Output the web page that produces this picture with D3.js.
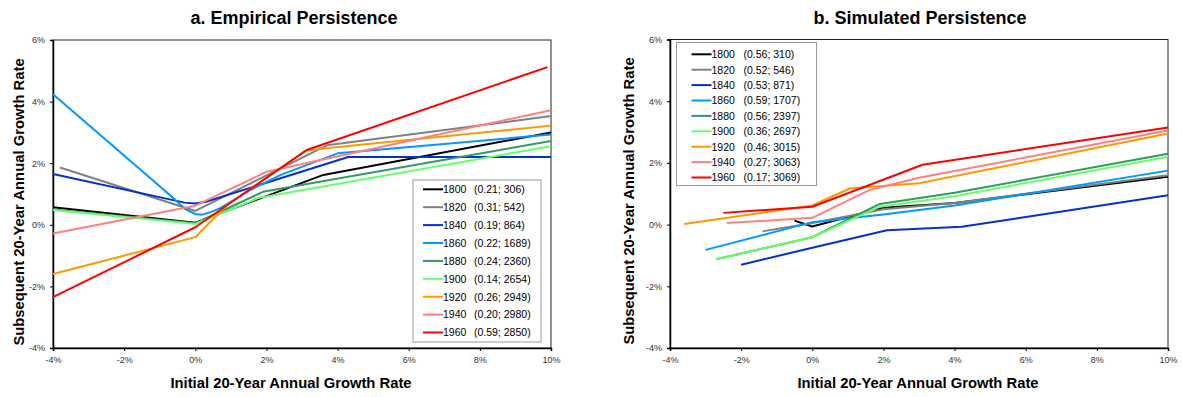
<!DOCTYPE html>
<html>
<head>
<meta charset="utf-8">
<script src="https://cdn.jsdelivr.net/npm/d3@7"></script>
<style>
  body { margin: 0; background: #fff; }
  svg { font-family: Arial, "Liberation Sans", sans-serif; }
  .tick text { fill: #333; font-size: 9px; }
  .series { fill: none; stroke-width: 2; stroke-linejoin: round; }
</style>
</head>
<body>
<svg id="chart" width="1182" height="397"></svg>
<script>
// cohorts and their colors
var years = ["1800", "1820", "1840", "1860", "1880", "1900", "1920", "1940", "1960"]
var colors = ["#000000", "#808080", "#0033cc", "#0099ff", "#339966", "#66ff66", "#ff9900", "#ff8080", "#ff0000"]

var xTicks = [-4, -2, 0, 2, 4, 6, 8, 10]
var yTicks = [-4, -2, 0, 2, 4, 6]

// legend stats (slope; count)
var empiricalStats = ["(0.21; 306)", "(0.31; 542)", "(0.19; 864)", "(0.22; 1689)", "(0.24; 2360)",
  "(0.14; 2654)", "(0.26; 2949)", "(0.20; 2980)", "(0.59; 2850)"]
var simulatedStats = ["(0.56; 310)", "(0.52; 546)", "(0.53; 871)", "(0.59; 1707)", "(0.56; 2397)",
  "(0.36; 2697)", "(0.46; 3015)", "(0.27; 3063)", "(0.17; 3069)"]

// a. empirical: [initial rate, subsequent rate] in %
var emp1800 = [[-4, 0.57], [0, 0.07], [3.6, 1.62], [10, 3.0]]
var emp1820 = [[-3.8, 1.86], [0, 0.45], [3.7, 2.58], [10, 3.53]]
var emp1840 = [[-4, 1.65], [-0.3, 0.72], [0, 0.69], [0.3, 0.75], [4.3, 2.2], [10, 2.2]]
var emp1860 = [[-4, 4.24], [-1, 1.25], [-0.6, 0.85], [-0.3, 0.52], [0, 0.35], [0.2, 0.33],
  [0.45, 0.42], [0.7, 0.54], [1.55, 1.13], [2.4, 1.62], [4, 2.32], [10, 2.93]]
var emp1880 = [[-4, 0.5], [0, 0.05], [1.9, 1.07], [10, 2.72]]
var emp1900 = [[-4, 0.48], [0, 0.03], [1.8, 0.88], [10, 2.55]]
var emp1920 = [[-4, -1.6], [0, -0.4], [0.9, 0.65], [3.1, 2.4], [3.6, 2.48], [10, 3.22]]
var emp1940 = [[-4, -0.28], [0, 0.62], [2.0, 1.72], [10, 3.72]]
var emp1960 = [[-4, -2.35], [0, -0.08], [3.13, 2.43], [9.9, 5.12]]

// b. simulated
var sim1800 = [[-0.5, 0.13], [0, -0.06], [2, 0.55], [4, 0.7], [10, 1.55]]
var sim1820 = [[-1.4, -0.22], [0, 0.05], [2, 0.5], [4, 0.7], [10, 1.6]]
var sim1840 = [[-2, -1.3], [0, -0.75], [2.1, -0.18], [4.2, -0.07], [10, 0.95]]
var sim1860 = [[-3, -0.82], [0, 0.08], [2, 0.33], [4, 0.62], [10, 1.75]]
var sim1880 = [[-2.7, -1.12], [0, -0.41], [1.9, 0.67], [4, 1.03], [10, 2.3]]
var sim1900 = [[-2.7, -1.12], [0, -0.41], [1.9, 0.58], [4, 0.92], [10, 2.2]]
var sim1920 = [[-3.6, 0.02], [0, 0.62], [1.05, 1.17], [3, 1.34], [10, 2.95]]
var sim1940 = [[-2.4, 0.05], [0, 0.22], [1.6, 1.12], [3, 1.52], [10, 3.05]]
var sim1960 = [[-2.5, 0.38], [0, 0.58], [3.1, 1.94], [10, 3.15]]

var empirical = [emp1800, emp1820, emp1840, emp1860, emp1880, emp1900, emp1920, emp1940, emp1960]
var simulated = [sim1800, sim1820, sim1840, sim1860, sim1880, sim1900, sim1920, sim1940, sim1960]

var svg = d3.select("#chart")

function drawPanel(opts) {
  var x = d3.scaleLinear().domain([-4, 10]).range([opts.left, opts.right])
  var y = d3.scaleLinear().domain([-4, 6]).range([opts.bottom, opts.top])
  var g = svg.append("g")

  // title
  g.append("text")
    .attr("x", opts.titleX).attr("y", 24)
    .attr("text-anchor", "middle")
    .style("font-size", "18px").style("font-weight", "bold")
    .text(opts.title)

  // frame
  g.append("rect")
    .attr("x", opts.left).attr("y", opts.top)
    .attr("width", opts.right - opts.left).attr("height", opts.bottom - opts.top)
    .attr("fill", "#fff").attr("stroke", "#222").attr("stroke-width", 1)

  var fmt = function (d) { return d + "%" }

  var xAxis = g.append("g")
    .attr("transform", "translate(0," + opts.bottom + ")")
    .call(d3.axisBottom(x).tickValues(xTicks).tickFormat(fmt).tickSize(3).tickPadding(6))
  var yAxis = g.append("g")
    .attr("transform", "translate(" + opts.left + ",0)")
    .call(d3.axisLeft(y).tickValues(yTicks).tickFormat(fmt).tickSize(3).tickPadding(5))
  xAxis.select(".domain").attr("stroke", "#000").attr("stroke-width", 1.5)
  yAxis.select(".domain").attr("stroke", "#000").attr("stroke-width", 1.5)
  xAxis.selectAll("text").style("font-family", "Arial, sans-serif")
  yAxis.selectAll("text").style("font-family", "Arial, sans-serif")

  // axis titles
  g.append("text")
    .attr("x", opts.xTitleX).attr("y", 388)
    .attr("text-anchor", "middle")
    .style("font-size", "14.8px").style("font-weight", "bold")
    .text("Initial 20-Year Annual Growth Rate")
  g.append("text")
    .attr("transform", "translate(" + opts.yTitleX + "," + opts.yTitleY + ") rotate(-90)")
    .attr("text-anchor", "middle")
    .style("font-size", "14.8px").style("font-weight", "bold")
    .text("Subsequent 20-Year Annual Growth Rate")

  var line = d3.line()
    .x(function (d) { return x(d[0]) })
    .y(function (d) { return y(d[1]) })

  g.selectAll(".series")
    .data(opts.series)
    .enter()
    .append("path")
    .attr("class", "series")
    .attr("stroke", function (d, i) { return colors[i] })
    .attr("d", line)

  // legend
  var lg = g.append("g")
  lg.append("rect")
    .attr("x", opts.legend.x).attr("y", opts.legend.y)
    .attr("width", opts.legend.w).attr("height", opts.legend.h)
    .attr("fill", "#fff").attr("stroke", "#999").attr("stroke-width", 1)

  var item = lg.selectAll(".item")
    .data(years)
    .enter()
    .append("g")
    .attr("class", "item")
    .attr("transform", function (d, i) {
      return "translate(" + opts.legend.x + "," + (opts.legend.first + i * opts.legend.step) + ")"
    })
  item.append("line")
    .attr("x1", opts.legend.lx1).attr("x2", opts.legend.lx2)
    .attr("stroke", function (d, i) { return colors[i] })
    .attr("stroke-width", 2)
  item.append("text")
    .attr("x", opts.legend.lx2).attr("y", 3.8)
    .style("font-size", "10.5px")
    .text(function (d) { return d })
  item.append("text")
    .attr("x", opts.legend.sx).attr("y", 3.8)
    .style("font-size", "10.5px")
    .text(function (d, i) { return opts.stats[i] })
}

drawPanel({
  title: "a. Empirical Persistence", titleX: 294,
  left: 53, right: 551, top: 40, bottom: 348,
  xTitleX: 291, yTitleX: 23.5, yTitleY: 202,
  series: empirical, stats: empiricalStats,
  legend: { x: 413, y: 180, w: 128, h: 162, first: 189.3, step: 17.9, lx1: 10, lx2: 30, sx: 61 }
})

drawPanel({
  title: "b. Simulated Persistence", titleX: 920,
  left: 670, right: 1168, top: 39.5, bottom: 348,
  xTitleX: 918, yTitleX: 634, yTitleY: 201,
  series: simulated, stats: simulatedStats,
  legend: { x: 676.5, y: 42.5, w: 140, h: 143, first: 54.3, step: 15.4, lx1: 15, lx2: 35, sx: 67 }
})
</script>
</body>
</html>
